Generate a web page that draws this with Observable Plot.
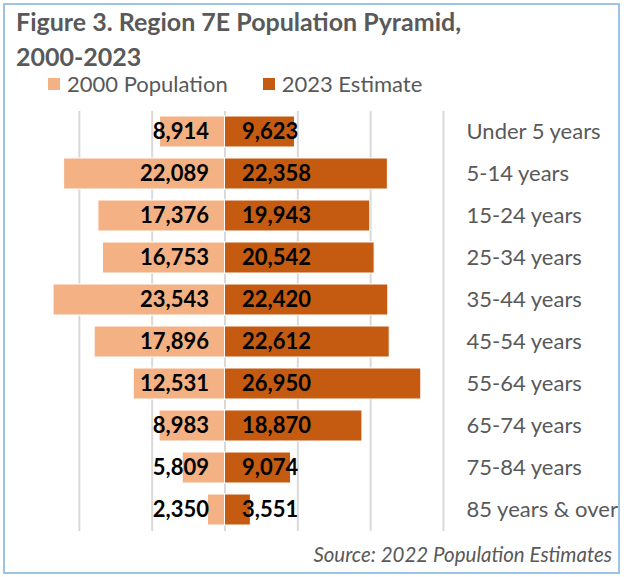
<!DOCTYPE html>
<html>
<head>
<meta charset="utf-8">
<script src="https://cdn.jsdelivr.net/npm/d3@7"></script>
<script src="https://cdn.jsdelivr.net/npm/@observablehq/plot@0.6"></script>
<style>
  html, body { margin: 0; padding: 0; background: #fff; }
  body { width: 624px; height: 577px; position: relative; overflow: hidden; font-family: Lato, "Open Sans", sans-serif; }
  #frame { position: absolute; left: 3px; top: 3px; width: 613px; height: 567px; border: 2px solid #9DC3E6; }
  #title { position: absolute; left: 16px; top: 4px; font-size: 25px; font-weight: bold; color: #595959; line-height: 35px; white-space: nowrap; }
  #legend { position: absolute; left: 48px; top: 72px; font-size: 22px; color: #595959; display: flex; align-items: center; line-height: 24px; white-space: nowrap; }
  .sw { display: inline-block; width: 12px; height: 12px; margin-right: 7px; }
  .item { display: flex; align-items: center; margin-right: 35px; }
  #chart { position: absolute; left: 0; top: 100px; width: 624px; }
  #source { position: absolute; right: 12px; top: 542px; font-size: 20.5px; line-height: 24px; font-style: italic; color: #595959; white-space: nowrap; }
</style>
</head>
<body>
<div id="frame"></div>
<div id="title">Figure 3. Region 7E Population Pyramid,<br>2000-2023</div>
<div id="legend"></div>
<div id="chart"></div>
<div id="source">Source: 2022 Population Estimates</div>
<script>
const categories = ["Under 5 years","5-14 years","15-24 years","25-34 years","35-44 years","45-54 years","55-64 years","65-74 years","75-84 years","85 years & over"];
const pop2000 = [8914,22089,17376,16753,23543,17896,12531,8983,5809,2350];
const est2023 = [9623,22358,19943,20542,22420,22612,26950,18870,9074,3551];
const seriesNames = ["2000 Population", "2023 Estimate"];
const seriesColors = ["#F4B183", "#C55A11"];
const gridTicks = [-20000,-10000,0,10000,20000,30000];

const rows2000 = categories.map((c, i) => ({cat: c, v: pop2000[i]}));
const rows2023 = categories.map((c, i) => ({cat: c, v: est2023[i]}));
const fmt = d3.format(",");

const legend = document.getElementById("legend");
seriesNames.forEach((n, i) => {
  const it = document.createElement("span");
  it.className = "item";
  it.innerHTML = `<span class="sw" style="background:${seriesColors[i]}"></span>${n}`;
  legend.appendChild(it);
});

const chart = Plot.plot({
  width: 624,
  height: 450,
  marginTop: 11,
  marginBottom: 19,
  marginLeft: 6,
  marginRight: 181,
  style: {fontFamily: "Lato, 'Open Sans', sans-serif", fontSize: "22px", background: "transparent", overflow: "visible"},
  x: {domain: [-30000, 30000], axis: null},
  y: {domain: categories, paddingInner: 0.26, paddingOuter: 0.13, axis: null},
  marks: [
    Plot.ruleX(gridTicks, {stroke: "#D9D9D9", strokeWidth: 2}),
    Plot.barX(rows2000, {y: "cat", x1: 0, x2: d => -d.v, fill: seriesColors[0], stroke: "white", strokeWidth: 1}),
    Plot.barX(rows2023, {y: "cat", x1: 0, x2: d => d.v, fill: seriesColors[1], stroke: "white", strokeWidth: 1}),
    Plot.text(rows2000, {y: "cat", x: 0, dx: -16, text: d => fmt(d.v), textAnchor: "end", fontWeight: "bold", fontSize: 22, fill: "black"}),
    Plot.text(rows2023, {y: "cat", x: 0, dx: 17, text: d => fmt(d.v), textAnchor: "start", fontWeight: "bold", fontSize: 22, fill: "black"}),
    Plot.axisY({anchor: "right", tickSize: 0, tickPadding: 23, color: "#595959", fontSize: 22, label: null})
  ]
});
document.getElementById("chart").appendChild(chart);
</script>
</body>
</html>
